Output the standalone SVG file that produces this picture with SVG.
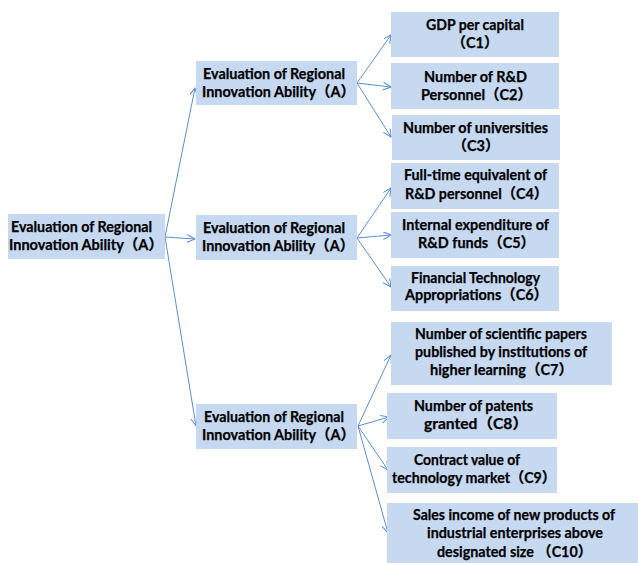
<svg xmlns="http://www.w3.org/2000/svg" width="638" height="563" viewBox="0 0 638 563">
<style>
rect{fill:#c6d9f1;stroke:none}
text{font-family:Lato,"Noto Sans CJK SC",sans-serif;font-weight:bold;font-size:14.5px;fill:#000;stroke:#000;stroke-width:0.25px}
.c line{stroke:#5b8fd3;stroke-width:1;fill:none}
</style>
<defs>
<marker id="ar" markerWidth="9" markerHeight="9" refX="8" refY="4" orient="auto" markerUnits="userSpaceOnUse">
<path d="M0,0 L8,4 L0,8" fill="none" stroke="#5b8fd3" stroke-width="1"/>
</marker>
</defs>
<rect width="638" height="563" style="fill:#fff"/>
<g class="c" marker-end="url(#ar)">
<line x1="165" y1="237" x2="195" y2="88" marker-end="url(#ar)"/>
<line x1="165" y1="237" x2="195" y2="239" marker-end="url(#ar)"/>
<line x1="165" y1="237" x2="196" y2="426" marker-end="url(#ar)"/>
<line x1="357" y1="83" x2="391" y2="35" marker-end="url(#ar)"/>
<line x1="357" y1="83" x2="391" y2="87" marker-end="url(#ar)"/>
<line x1="357" y1="83" x2="391" y2="137" marker-end="url(#ar)"/>
<line x1="357" y1="238" x2="391" y2="188" marker-end="url(#ar)"/>
<line x1="357" y1="238" x2="391" y2="235" marker-end="url(#ar)"/>
<line x1="357" y1="238" x2="391" y2="287" marker-end="url(#ar)"/>
<line x1="358" y1="426" x2="391" y2="355" marker-end="url(#ar)"/>
<line x1="358" y1="426" x2="389" y2="417" marker-end="url(#ar)"/>
<line x1="358" y1="426" x2="388" y2="470" marker-end="url(#ar)"/>
<line x1="358" y1="426" x2="388" y2="533" marker-end="url(#ar)"/>
</g>
<g id="root">
<rect x="8" y="214" width="157" height="45"/>
<text x="11" y="232" textLength="141" lengthAdjust="spacingAndGlyphs">Evaluation of Regional</text>
<text x="9" y="250" textLength="154" lengthAdjust="spacingAndGlyphs">Innovation Ability（A）</text>
</g>
<g id="mid1">
<rect x="196" y="61" width="161" height="44"/>
<text x="203" y="79" textLength="142" lengthAdjust="spacingAndGlyphs">Evaluation of Regional</text>
<text x="202" y="97" textLength="153" lengthAdjust="spacingAndGlyphs">Innovation Ability（A）</text>
</g>
<g id="mid2">
<rect x="196" y="215" width="161" height="45"/>
<text x="203" y="233" textLength="142" lengthAdjust="spacingAndGlyphs">Evaluation of Regional</text>
<text x="202" y="251" textLength="152" lengthAdjust="spacingAndGlyphs">Innovation Ability（A）</text>
</g>
<g id="mid3">
<rect x="196" y="404" width="161" height="45"/>
<text x="204" y="422" textLength="140" lengthAdjust="spacingAndGlyphs">Evaluation of Regional</text>
<text x="202" y="440" textLength="153" lengthAdjust="spacingAndGlyphs">Innovation Ability（A）</text>
</g>
<g id="c1">
<rect x="391" y="12" width="168" height="45"/>
<text x="426" y="30" textLength="98" lengthAdjust="spacingAndGlyphs">GDP per capital</text>
<text x="475" y="48" text-anchor="middle">（C1）</text>
</g>
<g id="c2">
<rect x="391" y="63" width="168" height="46"/>
<text x="424" y="82" textLength="103" lengthAdjust="spacingAndGlyphs">Number of  R&amp;D</text>
<text x="421" y="100" textLength="111" lengthAdjust="spacingAndGlyphs">Personnel（C2）</text>
</g>
<g id="c3">
<rect x="392" y="115" width="168" height="45"/>
<text x="403" y="133" textLength="145" lengthAdjust="spacingAndGlyphs">Number of universities</text>
<text x="476" y="151" text-anchor="middle">（C3）</text>
</g>
<g id="c4">
<rect x="391" y="163" width="168" height="46"/>
<text x="404" y="180" textLength="143" lengthAdjust="spacingAndGlyphs">Full-time equivalent of</text>
<text x="405" y="199" textLength="143" lengthAdjust="spacingAndGlyphs">R&amp;D personnel（C4）</text>
</g>
<g id="c5">
<rect x="391" y="212" width="168" height="46"/>
<text x="402" y="230" textLength="147" lengthAdjust="spacingAndGlyphs">Internal expenditure  of</text>
<text x="418" y="248" textLength="117" lengthAdjust="spacingAndGlyphs">R&amp;D funds（C5）</text>
</g>
<g id="c6">
<rect x="391" y="266" width="168" height="45"/>
<text x="411" y="283" textLength="129" lengthAdjust="spacingAndGlyphs">Financial Technology</text>
<text x="405" y="300" textLength="143" lengthAdjust="spacingAndGlyphs">Appropriations（C6）</text>
</g>
<g id="c7">
<rect x="391" y="322" width="221" height="63"/>
<text x="415" y="339" textLength="172" lengthAdjust="spacingAndGlyphs">Number of scientific papers</text>
<text x="415" y="357" textLength="172" lengthAdjust="spacingAndGlyphs">published by institutions of</text>
<text x="430" y="375" textLength="143" lengthAdjust="spacingAndGlyphs">higher learning（C7）</text>
</g>
<g id="c8">
<rect x="387" y="393" width="170" height="46"/>
<text x="414" y="411" textLength="119" lengthAdjust="spacingAndGlyphs">Number of patents</text>
<text x="424" y="429" textLength="104" lengthAdjust="spacingAndGlyphs">granted（C8）</text>
</g>
<g id="c9">
<rect x="387" y="447" width="170" height="46"/>
<text x="414" y="465" textLength="106" lengthAdjust="spacingAndGlyphs">Contract value of</text>
<text x="392" y="483" textLength="164" lengthAdjust="spacingAndGlyphs">technology market（C9）</text>
</g>
<g id="c10">
<rect x="387" y="503" width="251" height="60"/>
<text x="413" y="520" textLength="202" lengthAdjust="spacingAndGlyphs">Sales income of new products of</text>
<text x="427" y="538" textLength="176" lengthAdjust="spacingAndGlyphs">industrial enterprises above</text>
<text x="437" y="557" textLength="155" lengthAdjust="spacingAndGlyphs">designated size （C10）</text>
</g>
</svg>
